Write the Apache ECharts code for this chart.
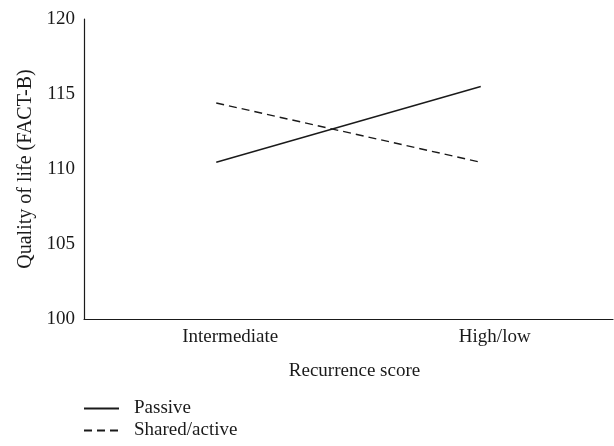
<!doctype html>
<html>
	<head>
		<meta charset="UTF-8">
		<title>Quality of life</title>
		<style>
			html, body { margin: 0; padding: 0; background: #fff; }
			#chart { width: 614px; height: 446px; }
		</style>
	</head>
	<body>
		<div id="chart"></div>
		<script src="https://cdn.jsdelivr.net/npm/echarts@6/dist/echarts.min.js"></script>
		<script type="text/javascript">
			var categories = ['Intermediate', 'High/low'];
			var passive = [110.45, 115.5];
			var sharedActive = [114.4, 110.45];
			var seriesNames = ['Passive', 'Shared/active'];

			var font = 'Liberation Serif';
			var ink = '#1a1a1a';

			var chart = echarts.init(document.getElementById('chart'));

			var option = {
				animation: false,
				textStyle: { fontFamily: font, color: ink },
				grid: { left: 84, top: 19, right: 1, bottom: 127, containLabel: false },
				legend: {
					orient: 'vertical',
					left: 78,
					top: 394,
					itemWidth: 35,
					itemHeight: 12,
					itemGap: 3,
					data: seriesNames,
					itemStyle: { opacity: 0 },
					textStyle: { fontFamily: font, fontSize: 19, color: ink, padding: [0, 0, 0, 10] }
				},
				xAxis: {
					type: 'category',
					data: categories,
					boundaryGap: true,
					name: 'Recurrence score',
					nameLocation: 'middle',
					nameGap: 43,
					nameTextStyle: { fontFamily: font, fontSize: 19, color: ink, padding: [0, 0, 0, 12] },
					axisLine: { lineStyle: { color: ink, width: 1.2 } },
					axisTick: { show: false },
					axisLabel: { fontFamily: font, fontSize: 19, color: ink, margin: 9, padding: [0, 0, 0, 28] },
					splitLine: { show: false }
				},
				yAxis: {
					type: 'value',
					min: 100,
					max: 120,
					interval: 5,
					name: 'Quality of life (FACT-B)',
					nameLocation: 'middle',
					nameGap: 48,
					nameTextStyle: { fontFamily: font, fontSize: 20, color: ink },
					axisLine: { show: true, lineStyle: { color: ink, width: 1.2 } },
					axisTick: { show: false },
					axisLabel: { fontFamily: font, fontSize: 19, color: ink, margin: 9 },
					splitLine: { show: false }
				},
				series: [
					{
						name: seriesNames[0],
						type: 'line',
						data: passive,
						symbol: 'none',
						lineStyle: { color: ink, width: 1.4, type: 'solid' },
						itemStyle: { color: ink }
					},
					{
						name: seriesNames[1],
						type: 'line',
						data: sharedActive,
						symbol: 'none',
						lineStyle: { color: ink, width: 1.4, type: [8, 5] },
						itemStyle: { color: ink }
					}
				]
			};

			chart.setOption(option);
		</script>
	</body>
</html>
